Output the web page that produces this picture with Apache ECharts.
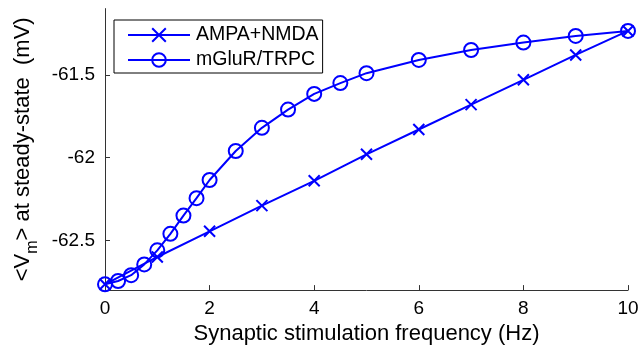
<!DOCTYPE html>
<html>
<head>
<meta charset="utf-8">
<script src="https://cdn.jsdelivr.net/npm/echarts@6/dist/echarts.min.js"></script>
<style>
html,body{margin:0;padding:0;background:#fff;}
#c{width:642px;height:350px;}
</style>
</head>
<body>
<div id="c"></div>
<script>
var freqAmpa = [0, 1, 2, 3, 4, 5, 6, 7, 8, 9, 10];
var ampaNmda = [-62.765, -62.60, -62.445, -62.29, -62.14, -61.98, -61.83, -61.68, -61.53, -61.38, -61.235];
var freqMglur = [0, 0.25, 0.5, 0.75, 1, 1.25, 1.5, 1.75, 2, 2.5, 3, 3.5, 4, 4.5, 5, 6, 7, 8, 9, 10];
var mglurTrpc = [-62.765, -62.745, -62.71, -62.645, -62.56, -62.46, -62.35, -62.245, -62.135, -61.96, -61.82, -61.71, -61.615, -61.55, -61.49, -61.41, -61.35, -61.305, -61.265, -61.235];
var yTicks = [-62.5, -62, -61.5];
var seriesNames = ['AMPA+NMDA', 'mGluR/TRPC'];

function pairs(xs, ys) { return xs.map(function (x, i) { return [x, ys[i]]; }); }

var FONT = 'Liberation Sans';
var BLUE = '#0000ff';
var chart = echarts.init(document.getElementById('c'), null, { renderer: 'canvas' });
chart.setOption({
  animation: false,
  backgroundColor: '#fff',
  textStyle: { fontFamily: FONT },
  grid: { left: 105, right: 14, top: 8.6, bottom: 59, containLabel: false },
  legend: {
    left: 114, top: 20,
    orient: 'vertical',
    backgroundColor: '#fff',
    borderColor: '#000', borderWidth: 1,
    padding: [5, 4, 3, 13],
    itemWidth: 62, itemHeight: 17, itemGap: 5,
    textStyle: { fontFamily: FONT, fontSize: 19.5, lineHeight: 20, color: '#000', padding: [0, 0, 0, 1] },
    data: seriesNames
  },
  xAxis: {
    type: 'value', min: 0, max: 10, interval: 2,
    name: 'Synaptic stimulation frequency (Hz)',
    nameLocation: 'middle', nameGap: 30,
    nameTextStyle: { fontFamily: FONT, fontSize: 22, color: '#000' },
    axisLine: { show: true, onZero: false, lineStyle: { color: '#333', width: 1 } },
    axisTick: { show: true, inside: true, length: 5, lineStyle: { color: '#333' } },
    axisLabel: { fontFamily: FONT, fontSize: 19, color: '#000', margin: 9 },
    splitLine: { show: false }
  },
  yAxis: {
    type: 'value', min: -62.8, max: -61.1,
    name: '<V{sub|m}> at steady-state  (mV)',
    nameLocation: 'middle', nameGap: 64, nameRotate: 90,
    nameTextStyle: {
      fontFamily: FONT, fontSize: 22, color: '#000',
      rich: { sub: { fontFamily: FONT, fontSize: 16, color: '#000', padding: [20, 0, 0, 0] } }
    },
    axisLine: { show: true, onZero: false, lineStyle: { color: '#333', width: 1 } },
    axisTick: { show: true, inside: true, length: 5, customValues: yTicks, lineStyle: { color: '#333' } },
    axisLabel: { fontFamily: FONT, fontSize: 19, color: '#000', margin: 10, customValues: yTicks },
    splitLine: { show: false }
  },
  series: [
    {
      name: seriesNames[0], type: 'line',
      data: pairs(freqAmpa, ampaNmda),
      symbol: 'path://M0,0L10,10M10,0L0,10', symbolSize: 11,
      showAllSymbol: true,
      lineStyle: { color: BLUE, width: 2 },
      itemStyle: { color: BLUE, borderColor: BLUE, borderWidth: 2 },
      z: 2
    },
    {
      name: seriesNames[1], type: 'line',
      data: pairs(freqMglur, mglurTrpc),
      symbol: 'circle', symbolSize: 14,
      showAllSymbol: true,
      lineStyle: { color: BLUE, width: 2 },
      itemStyle: { color: 'rgba(0,0,0,0)', borderColor: BLUE, borderWidth: 2 },
      z: 3
    }
  ]
});
</script>
</body>
</html>
